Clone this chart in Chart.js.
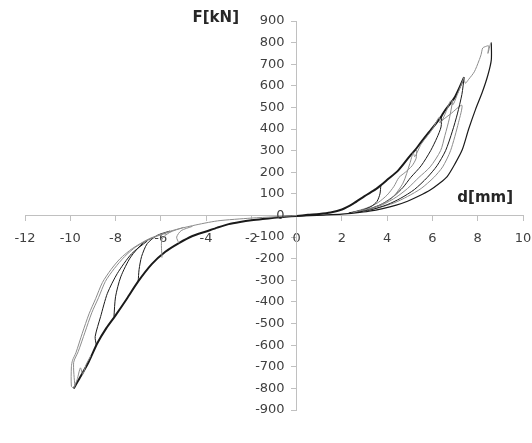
<!DOCTYPE html>
<html>
<head>
<meta charset="utf-8">
<script src="https://cdn.jsdelivr.net/npm/chart.js@4"></script>
<style>
  html, body { margin: 0; padding: 0; background: #fff; }
  #wrap { width: 532px; height: 443px; position: relative; }
</style>
</head>
<body>
<div id="wrap"><canvas id="chart-hyst"></canvas></div>
<script>
// axis ticks
const xTicks = [-12, -10, -8, -6, -4, -2, 0, 2, 4, 6, 8, 10];
const yTicks = [-900, -800, -700, -600, -500, -400, -300, -200, -100, 0, 100, 200, 300, 400, 500, 600, 700, 800, 900];

// d [mm], F [kN]
// positive side: loading backbone
const posBackbone = [[0,-2],[0.5,3],[1,7],[1.5,14],[2,28],[2.5,55],[3,90],[3.5,122],[3.72,140],[4,165],[4.5,210],[5,275],[5.25,305],[5.5,340],[6,405],[6.4,460],[6.5,478],[7,550],[7.4,640]];
const posReload = [[2.5,15],[3.5,40],[4.2,80],[4.7,150],[5.0,240],[5.15,290],[5.22,272],[5.5,330],[6.0,400],[6.3,455],[6.36,428],[6.6,480],[6.8,530],[6.9,512],[7.1,560],[7.4,640]];
const posOuterLoad = [[7.4,640],[7.45,612],[7.6,630],[7.85,665],[8.05,715],[8.15,745],[8.22,775],[8.35,782],[8.48,785],[8.45,750],[8.55,790],[8.6,800]];
const posOuterUnload = [[8.6,800],[8.6,720],[8.45,650],[8.2,570],[7.9,490],[7.6,400],[7.32,305],[7.0,240],[6.65,180],[6.3,148],[5.9,118],[5.4,90],[4.9,66],[4.4,48],[3.8,32],[3.2,20],[2.6,12],[2,6],[1.2,2],[0,-3]];
const posU1 = [[3.72,140],[3.68,100],[3.55,65],[3.3,42],[2.9,25],[2.3,12]];
const posU2 = [[5.3,305],[5.28,265],[5.1,230],[4.8,200],[4.52,176],[4.3,135],[4.0,95],[3.6,60],[3.1,35],[2.5,16]];
const posU3 = [[6.4,460],[6.38,410],[6.2,360],[5.92,300],[5.5,230],[5.04,176],[4.7,130],[4.3,90],[3.8,55],[3.2,30],[2.5,14]];
const posU4 = [[6.9,535],[6.75,450],[6.55,370],[6.36,300],[5.9,225],[5.4,176],[4.9,125],[4.4,85],[3.8,50],[3.1,25]];
const posU5 = [[7.4,640],[7.3,560],[7.1,470],[6.88,390],[6.58,300],[6.2,230],[5.77,176],[5.2,120],[4.6,80],[4.0,50],[3.3,27],[2.6,14]];
const posU6 = [[6.3,430],[6.8,470],[7.3,510],[7.15,430],[6.8,300],[6.45,225],[6.06,176],[5.5,125],[4.9,88],[4.3,58],[3.6,35],[2.9,18]];

// negative side
const negBackbone = [[0,-2],[-0.5,-6],[-1,-11],[-1.5,-16],[-2,-22],[-2.5,-30],[-3,-40],[-3.5,-56],[-4,-74],[-4.6,-95],[-5.2,-128],[-5.8,-168],[-6.4,-225],[-7,-305],[-7.5,-385],[-8,-462],[-8.4,-520],[-8.8,-590],[-9.2,-680],[-9.6,-755],[-9.85,-800]];
const negOuter = [[-9.85,-800],[-9.95,-790],[-9.95,-700],[-9.9,-670],[-9.75,-635],[-9.47,-545],[-9.17,-455],[-8.88,-385],[-8.58,-310],[-8.2,-250],[-7.8,-200],[-7.26,-153],[-6.5,-107],[-5.5,-70],[-4.6,-47],[-3.5,-25],[-2,-12],[-1,-6],[0,0]];
const negOuter2 = [[-9.8,-790],[-9.85,-680],[-9.65,-630],[-9.35,-540],[-9.05,-450],[-8.75,-380],[-8.45,-305],[-8.05,-245],[-7.6,-190],[-7.1,-145],[-6.4,-105],[-5.5,-72]];
const negNotch = [[-9.85,-800],[-9.7,-760],[-9.55,-705],[-9.45,-735],[-9.3,-690],[-9.1,-650]];
const negU1 = [[-5.2,-128],[-5.3,-100],[-5.1,-70],[-4.6,-50]];
const negU2 = [[-5.95,-195],[-5.95,-110],[-5.6,-78],[-5.0,-55]];
const negU3 = [[-7,-305],[-6.96,-250],[-6.85,-190],[-6.6,-130],[-6.16,-92],[-5.6,-72]];
const negU4 = [[-8.07,-468],[-8.0,-376],[-7.77,-284],[-7.33,-192],[-6.74,-123],[-6.2,-96]];
const negU5 = [[-8.85,-600],[-8.9,-560],[-8.66,-468],[-8.36,-360],[-7.92,-268],[-7.3,-178],[-6.6,-118]];

const BLACK = "#1a1a1a";
const GRAY = "#8c8c8c";
const AXIS = "#c0c0c0";
const LABEL = "#404040";

function curve(pts, color, width) {
  return {
    data: pts.map(([x, y]) => ({ x, y })),
    showLine: true,
    borderColor: color,
    borderWidth: width,
    pointRadius: 0,
    tension: 0.25,
    fill: false,
  };
}

// y labels sit left of the centred axis, axis titles like the Excel original
const axisText = {
  id: "axisText",
  afterDraw(chart) {
    const { ctx, scales } = chart;
    const x0 = scales.x.getPixelForValue(0);
    ctx.save();
    ctx.font = "13px 'DejaVu Sans'";
    ctx.fillStyle = LABEL;
    ctx.textAlign = "right";
    ctx.textBaseline = "middle";
    yTicks.forEach((v) => ctx.fillText(String(v), x0 - 12, scales.y.getPixelForValue(v)));
    ctx.font = "bold 15px 'DejaVu Sans'";
    ctx.fillStyle = "#262626";
    ctx.fillText("F[kN]", 239, 18);
    ctx.fillText("d[mm]", 513, 198);
    ctx.restore();
  },
};

document.addEventListener("DOMContentLoaded", () => {
  const ctx = document.getElementById("chart-hyst");
  new Chart(ctx, {
    type: "scatter",
    data: {
      datasets: [
        curve(negOuter, GRAY, 1),
        curve(negOuter2, GRAY, 1),
        curve(negNotch, GRAY, 1),
        curve(negU1, GRAY, 1),
        curve(negU2, GRAY, 1),
        curve(negU3, BLACK, 1),
        curve(negU4, BLACK, 1),
        curve(negU5, BLACK, 1),
        curve(negBackbone, BLACK, 2),
        curve(posReload, GRAY, 1),
        curve(posOuterLoad, GRAY, 1),
        curve(posU1, BLACK, 1),
        curve(posU2, GRAY, 1),
        curve(posU3, BLACK, 1),
        curve(posU4, GRAY, 1),
        curve(posU5, BLACK, 1),
        curve(posU6, GRAY, 1),
        curve(posOuterUnload, BLACK, 1.2),
        curve(posBackbone, BLACK, 2),
      ],
    },
    options: {
      responsive: true,
      maintainAspectRatio: false,
      animation: false,
      layout: { padding: { left: 25, right: 9, top: 21, bottom: 33 } },
      scales: {
        x: {
          type: "linear",
          min: xTicks[0],
          max: xTicks[xTicks.length - 1],
          position: { y: 0 },
          afterBuildTicks: (axis) => { axis.ticks = xTicks.map((v) => ({ value: v })); },
          // end labels may hang over the edges, as in the original
          afterFit: (axis) => { axis.paddingLeft = 0; axis.paddingRight = 0; },
          ticks: { color: LABEL, font: { family: "DejaVu Sans", size: 13 }, padding: 10, autoSkip: false },
          grid: { drawOnChartArea: false, drawTicks: true, tickLength: 5, color: AXIS },
          border: { color: AXIS, width: 1 },
        },
        y: {
          type: "linear",
          min: yTicks[0],
          max: yTicks[yTicks.length - 1],
          position: { x: 0 },
          afterBuildTicks: (axis) => { axis.ticks = yTicks.map((v) => ({ value: v })); },
          ticks: { display: false },
          grid: { drawOnChartArea: false, drawTicks: true, tickLength: 5, color: AXIS },
          border: { color: AXIS, width: 1 },
        },
      },
      plugins: {
        legend: { display: false },
        tooltip: { enabled: false },
      },
    },
    plugins: [axisText],
  });
});
</script>
</body>
</html>
